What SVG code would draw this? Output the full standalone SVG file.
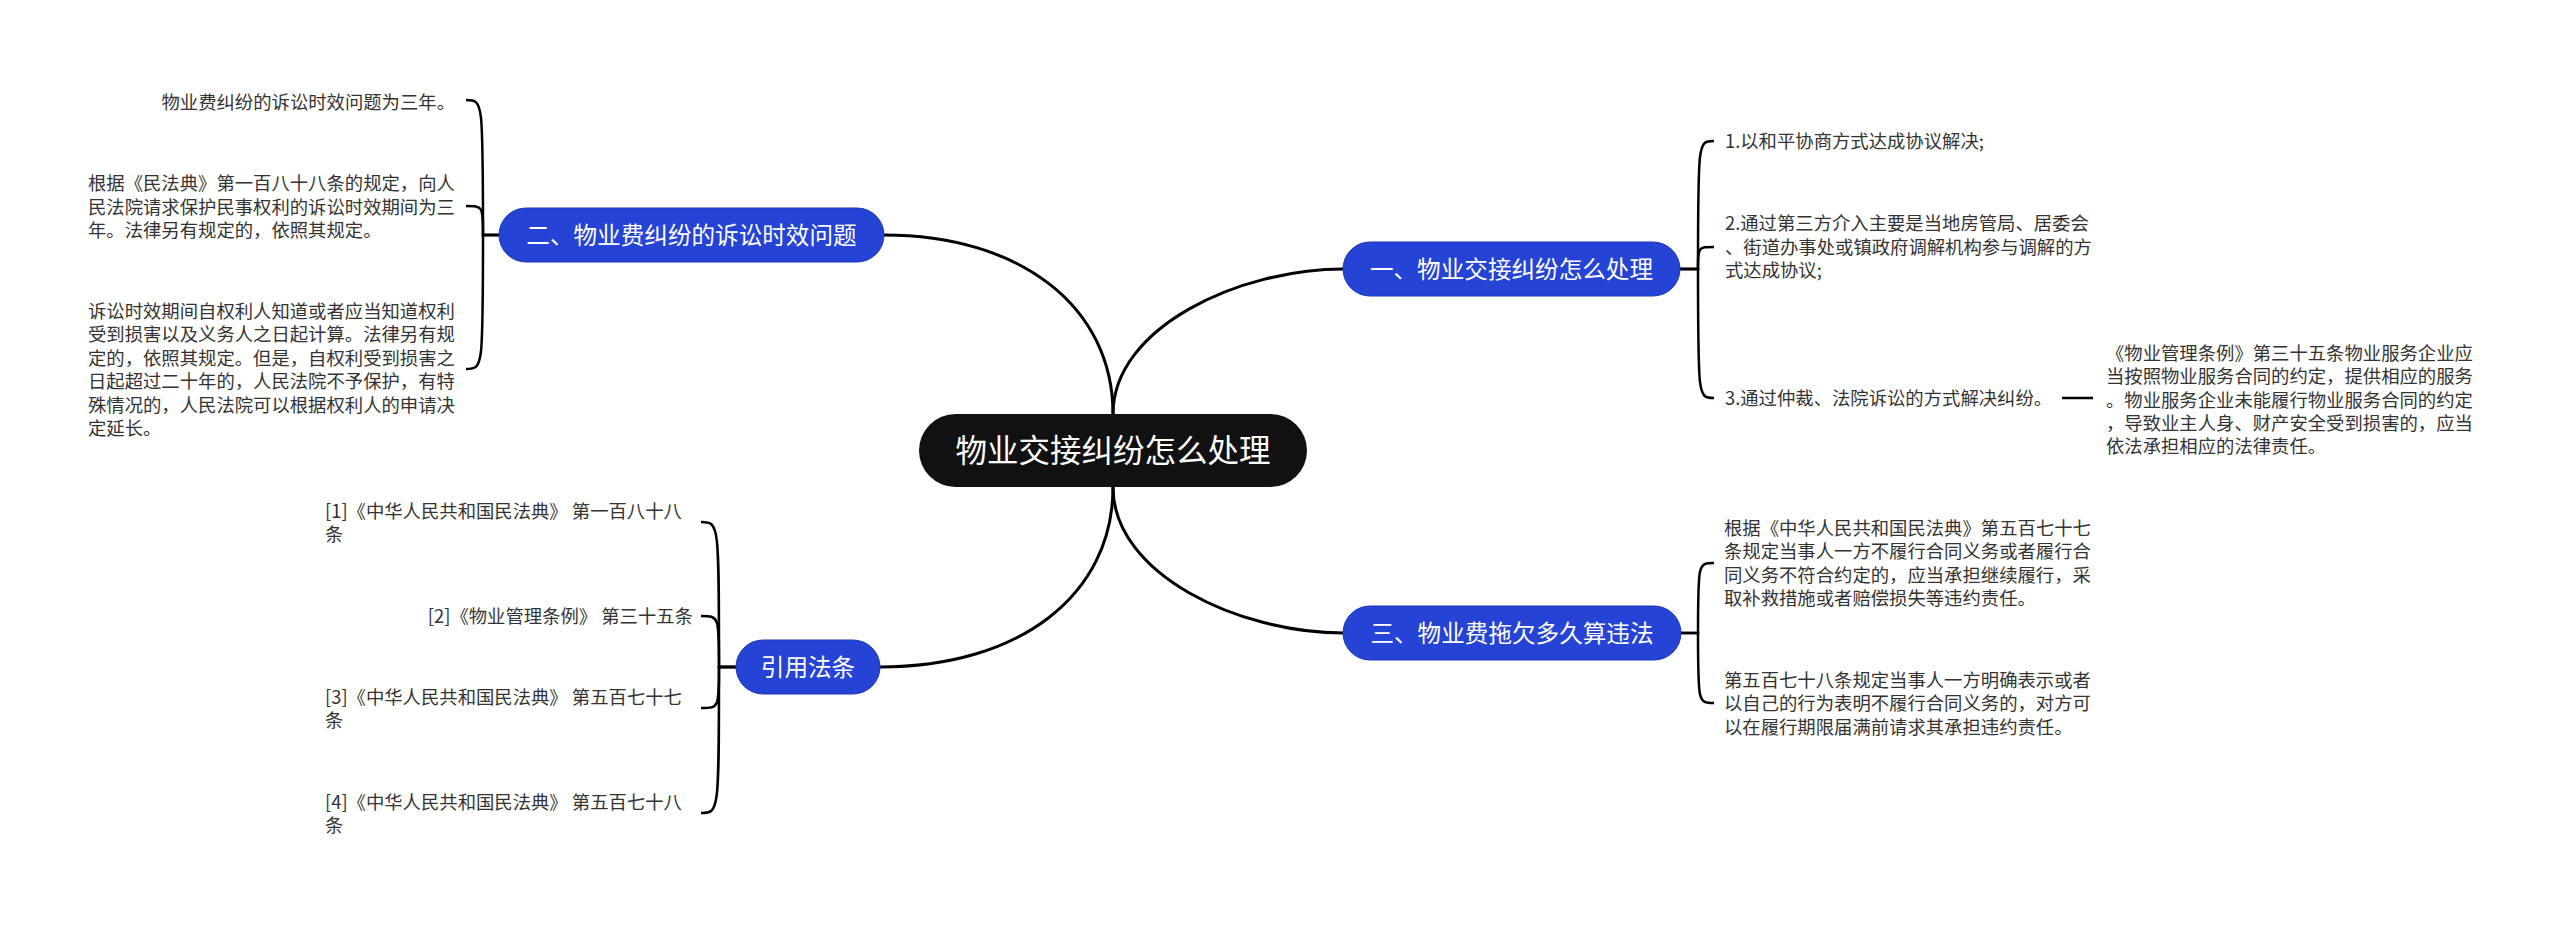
<svg xmlns="http://www.w3.org/2000/svg" width="2560" height="925" viewBox="0 0 2560 925">
<style>
.bg{fill:#ffffff}
.main{fill:none;stroke:#000;stroke-width:3}
.br{fill:none;stroke:#000;stroke-width:2.5}
.root rect{fill:#111111}
.root text{fill:#ffffff;font-family:"Noto Sans CJK SC","Noto Sans",sans-serif;font-size:31.5px;text-anchor:middle}
.topic rect{fill:#2543d5;stroke:#1c36b3;stroke-width:1}
.topic text{fill:#ffffff;font-family:"Noto Sans CJK SC","Noto Sans",sans-serif;font-size:23.6px;text-anchor:middle}
.leaf text{fill:#333333;font-family:"Noto Sans CJK SC","Noto Sans",sans-serif;font-size:18.35px}
</style>
<rect class="bg" x="0" y="0" width="2560" height="925"/>
<g id="connectors">
<path class="main" d="M1113,414 C1113,307 1021,235 884,235"/>
<path class="main" d="M1113,414 C1113,327 1240,269 1343,269"/>
<path class="main" d="M1113,487 C1113,575 1240,633 1343,633"/>
<path class="main" d="M1113,487 C1113,595 1020,667 880,667"/>
<path class="br" d="M499,235 H483 C483,100 483,100 466,100"/>
<path class="br" d="M499,235 H483 C483,206 483,206 466,206"/>
<path class="br" d="M499,235 H483 C483,369 483,369 466,369"/>
<path class="br" d="M1680,269 H1698 C1698,141 1698,141 1714,141"/>
<path class="br" d="M1680,269 H1698 C1698,247 1698,247 1714,247"/>
<path class="br" d="M1680,269 H1698 C1698,398 1698,398 1714,398"/>
<path class="br" d="M2062,398 H2093"/>
<path class="br" d="M1681,633 H1698 C1698,563 1698,563 1714,563"/>
<path class="br" d="M1681,633 H1698 C1698,703 1698,703 1714,703"/>
<path class="br" d="M736,667 H719 C719,522 719,522 701,522"/>
<path class="br" d="M736,667 H719 C719,616 719,616 701,616"/>
<path class="br" d="M736,667 H719 C719,708 719,708 701,708"/>
<path class="br" d="M736,667 H719 C719,813 719,813 701,813"/>
</g>
<g id="root" class="root">
<rect x="919" y="414" width="388" height="73" rx="36.5"/>
<text x="1113" y="462">物业交接纠纷怎么处理</text>
</g>
<g id="topic-2" class="topic">
<rect x="499" y="208" width="385" height="54" rx="27"/>
<text x="691.5" y="244">二、物业费纠纷的诉讼时效问题</text>
</g>
<g id="topic-1" class="topic">
<rect x="1343" y="242" width="337" height="54" rx="27"/>
<text x="1511.5" y="278">一、物业交接纠纷怎么处理</text>
</g>
<g id="topic-3" class="topic">
<rect x="1343" y="606" width="338" height="54" rx="27"/>
<text x="1512" y="642">三、物业费拖欠多久算违法</text>
</g>
<g id="topic-ref" class="topic">
<rect x="736" y="640" width="144" height="54" rx="27"/>
<text x="808" y="676">引用法条</text>
</g>
<g id="leaf-2-1" class="leaf">
<text x="455" y="109" text-anchor="end">物业费纠纷的诉讼时效问题为三年。</text>
</g>
<g id="leaf-2-2" class="leaf">
<text x="88" y="190">根据《民法典》第一百八十八条的规定，向人</text>
<text x="88" y="213.5">民法院请求保护民事权利的诉讼时效期间为三</text>
<text x="88" y="237">年。法律另有规定的，依照其规定。</text>
</g>
<g id="leaf-2-3" class="leaf">
<text x="88" y="318">诉讼时效期间自权利人知道或者应当知道权利</text>
<text x="88" y="341.4">受到损害以及义务人之日起计算。法律另有规</text>
<text x="88" y="364.8">定的，依照其规定。但是，自权利受到损害之</text>
<text x="88" y="388.2">日起超过二十年的，人民法院不予保护，有特</text>
<text x="88" y="411.6">殊情况的，人民法院可以根据权利人的申请决</text>
<text x="88" y="435">定延长。</text>
</g>
<g id="leaf-1-1" class="leaf">
<text x="1725" y="148">1.以和平协商方式达成协议解决;</text>
</g>
<g id="leaf-1-2" class="leaf">
<text x="1725" y="230">2.通过第三方介入主要是当地房管局、居委会</text>
<text x="1725" y="253.5">、街道办事处或镇政府调解机构参与调解的方</text>
<text x="1725" y="277">式达成协议;</text>
</g>
<g id="leaf-1-3" class="leaf">
<text x="1725" y="405">3.通过仲裁、法院诉讼的方式解决纠纷。</text>
</g>
<g id="leaf-1-3-1" class="leaf">
<text x="2106" y="360">《物业管理条例》第三十五条物业服务企业应</text>
<text x="2106" y="383.3">当按照物业服务合同的约定，提供相应的服务</text>
<text x="2106" y="406.6">。物业服务企业未能履行物业服务合同的约定</text>
<text x="2106" y="429.9">，导致业主人身、财产安全受到损害的，应当</text>
<text x="2106" y="453.2">依法承担相应的法律责任。</text>
</g>
<g id="leaf-3-1" class="leaf">
<text x="1724" y="535">根据《中华人民共和国民法典》第五百七十七</text>
<text x="1724" y="558.4">条规定当事人一方不履行合同义务或者履行合</text>
<text x="1724" y="581.8">同义务不符合约定的，应当承担继续履行，采</text>
<text x="1724" y="605.2">取补救措施或者赔偿损失等违约责任。</text>
</g>
<g id="leaf-3-2" class="leaf">
<text x="1724" y="687">第五百七十八条规定当事人一方明确表示或者</text>
<text x="1724" y="710.4">以自己的行为表明不履行合同义务的，对方可</text>
<text x="1724" y="733.8">以在履行期限届满前请求其承担违约责任。</text>
</g>
<g id="ref-1" class="leaf">
<text x="325" y="518">[1]《中华人民共和国民法典》 第一百八十八</text>
<text x="325" y="541.4">条</text>
</g>
<g id="ref-2" class="leaf">
<text x="693" y="623" text-anchor="end">[2]《物业管理条例》 第三十五条</text>
</g>
<g id="ref-3" class="leaf">
<text x="325" y="704">[3]《中华人民共和国民法典》 第五百七十七</text>
<text x="325" y="727.4">条</text>
</g>
<g id="ref-4" class="leaf">
<text x="325" y="809">[4]《中华人民共和国民法典》 第五百七十八</text>
<text x="325" y="832.4">条</text>
</g>
</svg>
